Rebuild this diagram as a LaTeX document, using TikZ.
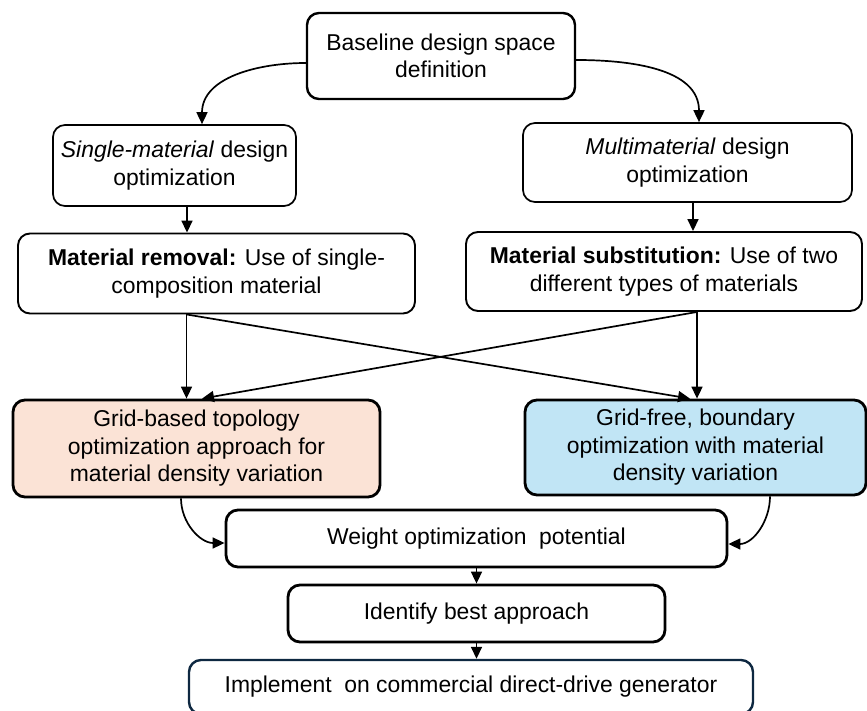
\documentclass[tikz,border=0pt]{standalone}
\usepackage{fontspec}
\setmainfont{Liberation Sans}
\usetikzlibrary{arrows.meta}
\definecolor{peach}{HTML}{FBE3D6}
\definecolor{lblue}{HTML}{C1E5F5}
\definecolor{navy}{HTML}{0E2841}
\begin{document}
\begin{tikzpicture}[x=1pt,y=-1pt,
  box/.style={draw, rounded corners=12pt, align=center, inner sep=0pt,
    font=\fontsize{22.9}{27.5}\selectfont, line width=1.7pt},
  thickbox/.style={box, line width=2.8pt},
  arr/.style={line width=1.7pt, -{Triangle[length=12pt,width=11pt]}}]
\useasboundingbox (0,0) rectangle (867,711);
\clip (0,0) rectangle (867,711);

\node[thickbox, line width=2.4pt, minimum width=268pt, minimum height=86pt] (top) at (441,56)
  {Baseline design space\\definition};
\node[box, minimum width=243pt, minimum height=81pt] (single) at (174.5,165.5)
  {\textit{Single-material} design\\optimization};
\node[box, minimum width=329pt, minimum height=79pt] (multi) at (687.5,162.5)
  {\textit{Multimaterial} design\\optimization};
\node[box, line width=1.9pt, minimum width=397pt, minimum height=80pt] (removal) at (216.5,273.5)
  {\textbf{Material removal:} Use of single-\\composition material};
\node[box, line width=1.9pt, minimum width=396pt, minimum height=79pt] (subst) at (664,271.5)
  {\textbf{Material substitution:} Use of two\\different types of materials};
\node[thickbox, fill=peach, minimum width=367pt, minimum height=97pt] (grid) at (196.5,448.5)
  {Grid-based topology\\optimization approach for\\material density variation};
\node[thickbox, fill=lblue, minimum width=341pt, minimum height=95pt] (free) at (695.5,447.5)
  {Grid-free, boundary\\optimization with material\\density variation};
\node[thickbox, minimum width=501pt, minimum height=57pt] (weight) at (476.5,538.5)
  {Weight optimization~ potential};
\node[thickbox, minimum width=377pt, minimum height=57pt] (best) at (476.5,613.5)
  {Identify best approach};
\node[thickbox, draw=navy, line width=2.4pt, minimum width=564pt, minimum height=54pt] (impl) at (471,687)
  {Implement~ on commercial direct-drive generator};

\draw[arr] ([yshift=-7pt]top.west) to[out=180,in=90] ([xshift=27.5pt]single.north);
\draw[arr] ([yshift=-4pt]top.east) to[out=0,in=90] ([xshift=11.5pt]multi.north);
\draw[arr] ([xshift=12.5pt]single.south) -- ([xshift=12.5pt]single.south |- removal.north);
\draw[arr] ([xshift=5.5pt]multi.south) -- ([xshift=5.5pt]multi.south |- subst.north);

\coordinate (rl) at ([xshift=-30pt]removal.south);
\coordinate (sr) at ([xshift=33pt]subst.south);
\draw[arr] (rl) -- (rl |- grid.north);
\draw[arr] (sr) -- (sr |- free.north);
\draw[arr] (rl) -- ([xshift=-5.5pt]free.north);
\draw[arr] (sr) -- ([xshift=5.5pt]grid.north);

\draw[arr] ([xshift=-15.5pt]grid.south) to[out=-90,in=180] ([yshift=-4.5pt]weight.west);
\draw[arr] ([xshift=74.5pt]free.south) to[out=-90,in=0] ([yshift=-5.5pt]weight.east);
\draw[arr] (weight.south) -- (best.north);
\draw[arr] (best.south) -- (best.south |- impl.north);
\end{tikzpicture}
\end{document}
